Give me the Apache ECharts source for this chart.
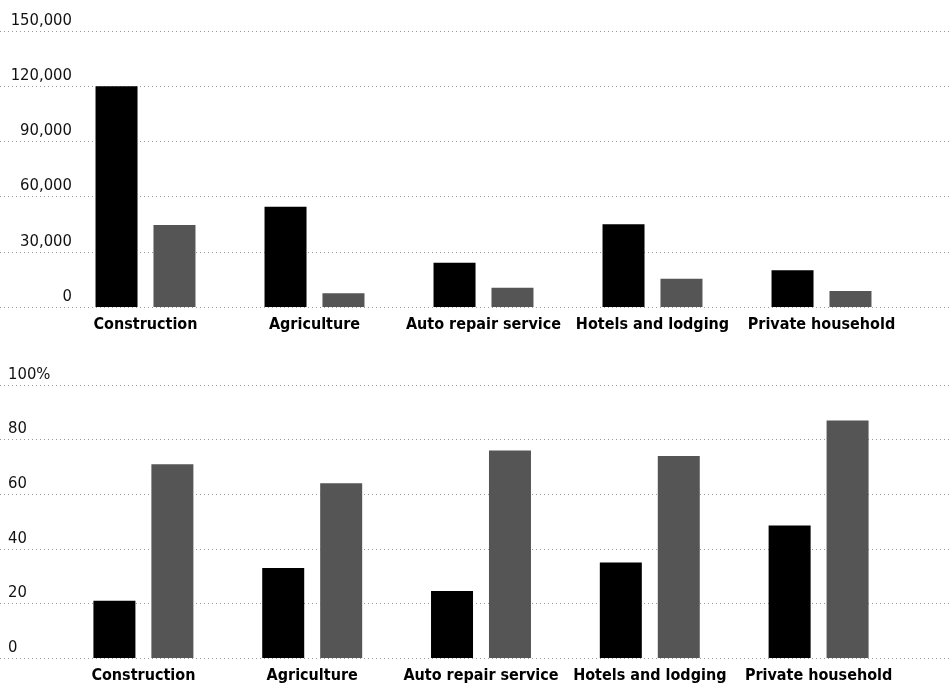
<!DOCTYPE html>
<html>
<head>
<meta charset="utf-8">
<script src="https://cdn.jsdelivr.net/npm/echarts@6/dist/echarts.min.js"></script>
<style>
html,body{margin:0;padding:0;background:#fff;}
#chart{width:952px;height:693px;}
</style>
</head>
<body>
<div id="chart"></div>
<script>
const categories = ['Construction', 'Agriculture', 'Auto repair service', 'Hotels and lodging', 'Private household'];
const countBlack = [120000, 54500, 24000, 45000, 20000];
const countGray = [44500, 7500, 10400, 15300, 8700];
const shareBlack = [21, 33, 24.5, 35, 48.5];
const shareGray = [71, 64, 76, 74, 87];
const countTicks = ['0', '30,000', '60,000', '90,000', '120,000', '150,000'];
const shareTicks = ['0', '20', '40', '60', '80', '100%'];

const FONT = '"DejaVu Sans Condensed", "Liberation Sans Narrow", sans-serif';
const GRID_LINE = { type: [1, 3], color: '#999', width: 1 };

const chart = echarts.init(document.getElementById('chart'), null, { renderer: 'canvas' });

function gridAxis(gridIndex, max, interval, ticks, align, margin) {
  return {
    type: 'value', gridIndex: gridIndex, min: 0, max: max, interval: interval,
    axisLine: { show: false }, axisTick: { show: false },
    splitLine: { show: true, lineStyle: GRID_LINE },
    axisLabel: {
      inside: true, align: align, margin: margin, verticalAlign: 'bottom',
      padding: [0, 0, 2, 0],
      fontFamily: FONT, fontSize: 16.5, color: '#111',
      formatter: function (v) { return ticks[Math.round(v / interval)]; }
    }
  };
}
function hiddenY(gridIndex, max, interval) {
  return { type: 'value', gridIndex: gridIndex, min: 0, max: max, interval: interval, show: false, splitLine: { show: false } };
}
function catAxis(gridIndex, margin) {
  return {
    type: 'category', gridIndex: gridIndex, data: categories,
    axisLine: { show: false }, axisTick: { show: false },
    axisLabel: { margin: margin, fontFamily: FONT, fontWeight: 'bold', fontSize: 16, color: '#000', interval: 0 }
  };
}

chart.setOption({
  animation: false,
  backgroundColor: '#fff',
  grid: [
    { left: 0, right: 0, top: 31, height: 276 },
    { left: 61, width: 845, top: 31, height: 276 },
    { left: 0, right: 0, top: 385, height: 273 },
    { left: 59, width: 844, top: 385, height: 273 }
  ],
  xAxis: [
    { type: 'value', gridIndex: 0, show: false },
    catAxis(1, 10),
    { type: 'value', gridIndex: 2, show: false },
    catAxis(3, 10)
  ],
  yAxis: [
    gridAxis(0, 150000, 30000, countTicks, 'right', 72),
    hiddenY(1, 150000, 30000),
    gridAxis(2, 100, 20, shareTicks, 'left', 8),
    hiddenY(3, 100, 20)
  ],
  series: [
    { type: 'bar', xAxisIndex: 1, yAxisIndex: 1, data: countBlack, barWidth: 42, barGap: '38%', itemStyle: { color: '#000' } },
    { type: 'bar', xAxisIndex: 1, yAxisIndex: 1, data: countGray, barWidth: 42, barGap: '38%', itemStyle: { color: '#555' } },
    { type: 'bar', xAxisIndex: 3, yAxisIndex: 3, data: shareBlack, barWidth: 42, barGap: '38%', itemStyle: { color: '#000' } },
    { type: 'bar', xAxisIndex: 3, yAxisIndex: 3, data: shareGray, barWidth: 42, barGap: '38%', itemStyle: { color: '#555' } }
  ]
});
</script>
</body>
</html>
